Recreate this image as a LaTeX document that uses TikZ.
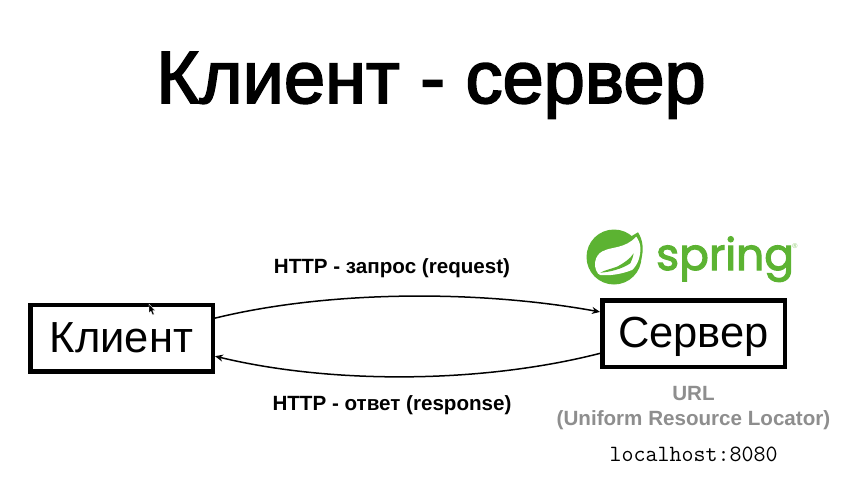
\documentclass[tikz,border=0pt]{standalone}
\usepackage{fontspec}
\setmainfont{Liberation Sans}
\newfontfamily\titlefont[FakeBold=2.5]{Liberation Sans}
\newfontfamily\springfont[FakeBold=2.5]{Poppins}
\definecolor{springgreen}{HTML}{5CB332}
\definecolor{urlgray}{HTML}{8E8E8E}
\usetikzlibrary{arrows.meta}
\tikzset{
  boxnode/.style={draw=black,line width=4.5pt,fill=white,minimum height=66.5pt,minimum width=182.5pt,inner sep=0pt,font=\fontsize{43.5}{43.5}\selectfont},
  link/.style={line width=1.5pt,-{Stealth[length=8pt,width=7pt]}},
  lbl/.style={inner sep=0pt,font=\fontsize{20.6}{25}\selectfont\bfseries},
}
\begin{document}
\begin{tikzpicture}[x=1pt,y=-1pt]
\useasboundingbox (0,0) rectangle (860,479);
\fill[white] (0,0) rectangle (860,479);
\node[inner sep=0pt,anchor=base,font=\titlefont\fontsize{74}{74}\selectfont] (title) at (431,103) {Клиент - сервер};
\node[boxnode] (cl) at (121.5,338) {\raisebox{-14pt}[0pt][0pt]{Клиент}};
\node[boxnode] (sv) at (693.5,333.5) {\raisebox{-13.5pt}[0pt][0pt]{Сервер}};
\draw[link] (cl.12.7) .. controls (330,290) and (480,290) .. (sv.167.6);
\draw[link] (sv.192.4) .. controls (480,384) and (330,384) .. (cl.-11.5);
\node[lbl] (req) at (392,268.5) {HTTP - запрос (request)};
\node[lbl] (resp) at (392,405.5) {HTTP - ответ (response)};
\node[lbl,text=urlgray,align=center] (url) at (693.5,408) {URL\\(Uniform Resource Locator)};
\node[inner sep=0pt,font=\fontsize{23.3}{23.3}\selectfont\ttfamily] (host) at (693.5,454) {localhost:8080};
% logo
\fill[springgreen] (614,257) circle (27.5);
\fill[springgreen] (638,232.3) .. controls (643,240) and (644,250) .. (641,260) -- (625,240) -- cycle;
\fill[white] (636.3,236.7) .. controls (630,243) and (625,245) .. (618.7,246.7) .. controls (610,249) and (603,249) .. (598,255) .. controls (595,259) and (594,265) .. (596,270) .. controls (597,273) and (599,275) .. (600.3,275) .. controls (610,276) and (622,274) .. (632,270) .. controls (638,265) and (641,255) .. (640.3,247) .. controls (640,243) and (638,239) .. (636.3,236.7) -- cycle;
\fill[springgreen] (600.3,272.7) .. controls (610,272) and (622,269) .. (630.3,263.3) .. controls (632,260) and (633,257) .. (633.7,253.3) .. controls (630,259) and (624,263) .. (617,266.7) .. controls (611,269) and (605,270) .. (600.3,272.7) -- cycle;
\fill[springgreen] (598,275.7) circle (1.5);
\node[inner sep=0pt,anchor=base west,text=springgreen,font=\springfont\fontsize{44}{44}\selectfont] (spr) at (656,270) {spring};
\node[inner sep=0pt,text=springgreen!70,font=\fontsize{7}{7}\selectfont] (reg) at (795,246) {®};
% cursor
\fill[black,draw=white,line width=0.3pt] (149,304) -- (149,313) -- (151,311.2) -- (152.6,315) -- (154.2,314.3) -- (152.6,310.7) -- (155,310.5) -- cycle;
\end{tikzpicture}
\end{document}
